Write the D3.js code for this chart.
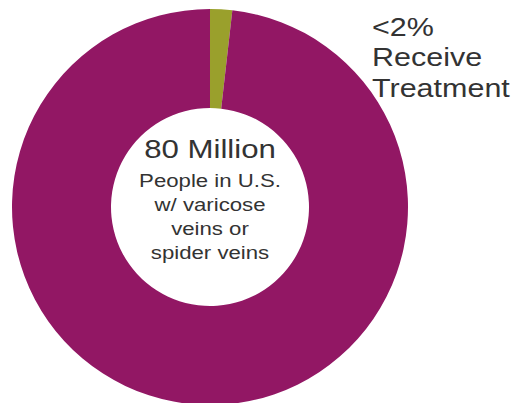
<!DOCTYPE html>
<html>
<head>
<meta charset="utf-8">
<script src="https://cdn.jsdelivr.net/npm/d3@7"></script>
<style>
    html, body { margin: 0; padding: 0; background: #fff; }
    svg { display: block; }
    text { font-family: "Liberation Sans", Arial, sans-serif; fill: #333; }
</style>
</head>
<body>
<div class="container"></div>
<script>
let segments = ["Receive Treatment", "No Treatment"];
let shares = [1.8, 98.2];
let centerTitle = "80 Million";
let centerLines = ["People in U.S.", "w/ varicose", "veins or", "spider veins"];
let calloutLines = ["<2%", "Receive", "Treatment"];

let width = 515, height = 403;
let cx = 210, cy = 207, outerR = 198, innerR = 99;

let svg = d3.select(".container")
    .append("svg")
    .attr("width", width)
    .attr("height", height);

let color = d3.scaleOrdinal()
    .domain(segments)
    .range(["#9aa02c", "#921764"]);

let pie = d3.pie()
    .sort(null)
    .value(d => d.value);

let arc = d3.arc()
    .innerRadius(innerR)
    .outerRadius(outerR);

let data = segments.map((s, i) => ({ name: s, value: shares[i] }));

let donut = svg.append("g")
    .attr("transform", "translate(" + cx + "," + cy + ")");

donut.selectAll("path")
    .data(pie(data))
    .enter()
    .append("path")
    .attr("d", arc)
    .attr("fill", d => color(d.data.name));

// centre label, text in the picture is a bit stretched sideways
let center = svg.append("g")
    .attr("transform", "translate(" + cx + ",0) scale(1.2,1)");

center.append("text")
    .attr("x", 0)
    .attr("y", 158)
    .attr("text-anchor", "middle")
    .style("font-size", "26px")
    .text(centerTitle);

center.selectAll("text.line")
    .data(centerLines)
    .enter()
    .append("text")
    .attr("class", "line")
    .attr("x", 0)
    .attr("y", (d, i) => 187 + i * 24)
    .attr("text-anchor", "middle")
    .style("font-size", "18.5px")
    .text(d => d);

let callout = svg.append("g")
    .attr("transform", "translate(372,0) scale(1.22,1)");

callout.selectAll("text")
    .data(calloutLines)
    .enter()
    .append("text")
    .attr("x", 0)
    .attr("y", (d, i) => 36 + i * 30.5)
    .style("font-size", "25px")
    .text(d => d);
</script>
</body>
</html>
